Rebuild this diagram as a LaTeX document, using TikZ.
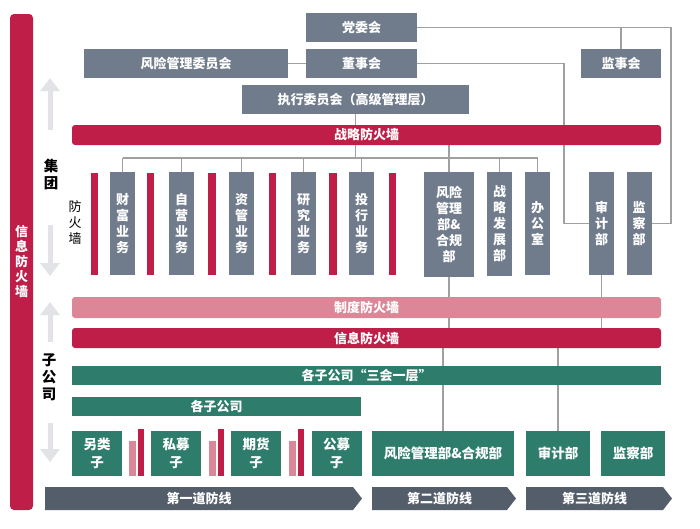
\documentclass[tikz,border=0pt]{standalone}
\usepackage{fontspec}
\setmainfont{Noto Sans CJK SC}
\usetikzlibrary{arrows.meta,backgrounds}
\definecolor{slate}{RGB}{112,124,140}
\definecolor{crimson}{RGB}{190,30,72}
\definecolor{rose}{RGB}{220,135,152}
\definecolor{pine}{RGB}{46,125,108}
\definecolor{ink}{RGB}{84,94,107}
\definecolor{wire}{RGB}{160,160,160}
\definecolor{haze}{RGB}{226,227,231}
\begin{document}
\begin{tikzpicture}[x = 1pt, y = -1pt,
  box/.style = {fill = slate, text = white, inner sep = 0pt, align = center,
    font = \bfseries\fontsize{13}{16}\selectfont},
  tall/.style = {box, minimum width = 25, minimum height = 103},
  wall/.style = {fill = crimson, inner sep = 0pt, minimum width = 7.5},
  band/.style = {box, fill = crimson, rounded corners = 3,
    minimum width = 589, minimum height = 20},
  sub/.style = {box, fill = pine, minimum height = 45,
    font = \bfseries\fontsize{13.5}{18}\selectfont},
  wire/.style = {draw = wire, line width = 1.2},
  hint/.style = {draw = haze, line width = 5,
    -{Triangle[width = 19, length = 13]}}]
  \useasboundingbox (0, 0) rectangle (700, 528);
  \node [band, minimum width = 23, minimum height = 496, rounded corners = 4,
    font = \bfseries\fontsize{13}{15}\selectfont] (infowall) at (21.5, 262)
    {信\\息\\防\\火\\墙};

  \node [box, minimum width = 111, minimum height = 29] (dw) at (361.5, 27.5) {党委会};
  \node [box, minimum width = 204, minimum height = 29] (fxw) at (186, 63.5) {风险管理委员会};
  \node [box, minimum width = 111, minimum height = 29] (ds) at (361.5, 63.5) {董事会};
  \node [box, minimum width = 80, minimum height = 29] (jsh) at (621, 63.5) {监事会};
  \node [box, minimum width = 227, minimum height = 29] (zx) at (355.5, 99.5)
    {执行委员会（高级管理层）};
  \node [band] (zl) at (366.5, 135) {战略防火墙};

  \foreach \n/\x/\t in {cf/122.5/财\\富\\业\\务, zy/181.5/自\\营\\业\\务,
      zg/241.5/资\\管\\业\\务, yj/303.5/研\\究\\业\\务, th/361.5/投\\行\\业\\务}
    \node [tall] (\n) at (\x, 223.5) {\t};
  \foreach \x [count = \i] in {94.5, 150.5, 212, 272.5, 333, 392.5}
    \node [wall, minimum height = 102] (wall\i) at (\x, 223.5) {};
  \node [tall, minimum width = 50, minimum height = 105] (fk) at (449, 224.5)
    {风险\\管理\\部\&\\合规\\部};
  \node [tall, minimum height = 104] (zf) at (499.5, 224) {战\\略\\发\\展\\部};
  \node [tall] (bg) at (537.5, 223.5) {办\\公\\室};
  \node [tall] (sj) at (601.5, 223.5) {审\\计\\部};
  \node [tall] (jc) at (639, 223.5) {监\\察\\部};

  \node [band, fill = rose, minimum height = 21] (zd) at (366.5, 307.5) {制度防火墙};
  \node [band] (xx) at (366.5, 338) {信息防火墙};
  \node [band, fill = pine, rounded corners = 0, minimum height = 19] (shyc)
    at (366.5, 375.5) {各子公司“三会一层”};
  \node [band, fill = pine, rounded corners = 0, minimum width = 289,
    minimum height = 19] (gz) at (216.5, 406.5) {各子公司};

  \foreach \n/\x/\t in {lb/97/另类\\子, sm/176/私募\\子, qh/256/期货\\子, gm/336.5/公募\\子}
    \node [sub, minimum width = 50] (\n) at (\x, 453.5) {\t};
  \foreach \x [count = \i] in {132.5, 212.5, 292.5}
    \node [wall, fill = rose, minimum width = 7, minimum height = 35] (low\i)
      at (\x, 458.5) {};
  \foreach \x [count = \i] in {141, 220.5, 301}
    \node [wall, minimum width = 6, minimum height = 47] (high\i) at (\x, 452.5) {};
  \node [sub, minimum width = 142] (gfk) at (443, 453.5) {风险管理部\&合规部};
  \node [sub, minimum width = 64] (gsj) at (558, 453.5) {审计部};
  \node [sub, minimum width = 64] (gjc) at (633, 453.5) {监察部};

  \foreach \a/\b/\t [count = \i] in {45/362/第一道防线, 372/516/第二道防线,
      526/672/第三道防线} {
    \fill [ink] (\a, 487) -- ({\b - 9}, 487) -- (\b, 498.5)
      -- ({\b - 9}, 510) -- (\a, 510) -- cycle;
    \node [box, fill = none] (d\i) at ({(\a + \b - 9) / 2}, 498.5) {\t};
  }

  \node [font = \bfseries\fontsize{14.5}{17}\selectfont, align = center,
    inner sep = 0pt] (jt) at (51, 174) {集\\团};
  \node [font = \bfseries\fontsize{14.5}{17}\selectfont, align = center,
    inner sep = 0pt] (zgs) at (49, 377) {子\\公\\司};
  \node [font = \fontsize{13}{16}\selectfont, align = center,
    inner sep = 0pt] (fhq) at (75, 223) {防\\火\\墙};

  \draw [hint] (50, 130) -- (50, 78);
  \draw [hint] (50, 225) -- (50, 276);
  \draw [hint] (50, 342) -- (50, 302);
  \draw [hint] (50, 423) -- (50, 462);

  \begin{scope}[on background layer]
    \coordinate (rim) at (671, 0);
    \coordinate (gap) at (564, 0);
    \coordinate (bus) at (0, 158);
    \draw [wire] (fxw) -- (ds);
    \draw [wire] (dw.east) -| (rim |- jc.east) -- (jc.east);
    \draw [wire] (jsh.north) -- (jsh.north |- dw.east);
    \draw [wire] (ds.east) -| (gap |- sj.west) -- (sj.west);
    \draw [wire] (zx.south) -- (zx.south |- bus);
    \draw [wire] (cf.north |- bus) -- (bg.north |- bus);
    \foreach \n in {cf, zy, zg, yj, th, zf, bg}
      \draw [wire] (\n.north) -- (\n.north |- bus);
    \draw [wire] (fk.north) -- (fk.north |- zl.south);
    \draw [wire] (fk.south) -- (fk.south |- xx.north);
    \draw [wire] (sj.south) -- (sj.south |- xx.north);
    \draw [wire] (gfk.north) -- (gfk.north |- xx.south);
    \draw [wire] (gsj.north) -- (gsj.north |- xx.south);
  \end{scope}
\end{tikzpicture}
\end{document}
